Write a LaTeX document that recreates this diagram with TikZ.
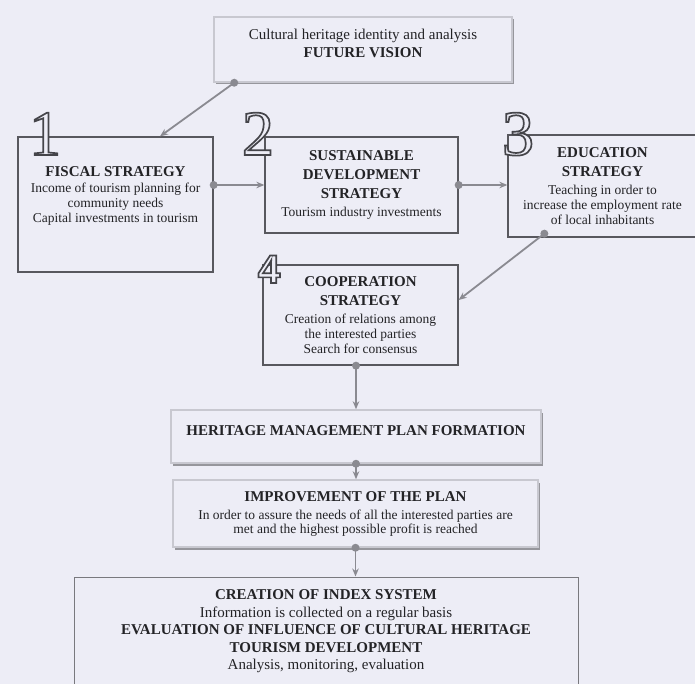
\documentclass[tikz,border=0pt]{standalone}
\usepackage{fontspec}
\setmainfont{Liberation Serif}
\setsansfont{Liberation Sans}
\usetikzlibrary{arrows.meta, positioning, shadows}

\definecolor{bgcol}{RGB}{237,237,246}
\definecolor{txtcol}{RGB}{35,35,38}
\definecolor{boxline}{RGB}{88,88,94}
\definecolor{rimcol}{RGB}{200,200,208}
\definecolor{shadecol}{RGB}{150,150,156}
\definecolor{linkcol}{RGB}{138,138,145}

% hollow numerals: fill in background colour, outline stroked in grey
\newcommand{\hollow}[1]{\special{pdf:literal direct 2 Tr 1.7 w 0.27 0.27 0.29 RG}#1\special{pdf:literal direct 0 Tr}}
\newcommand{\boxhead}[1]{{\fontsize{15}{18}\selectfont\bfseries #1}}

\begin{document}
\begin{tikzpicture}[
    x=1pt, y=-1pt,
    >=Stealth,
    stratbox/.style={rectangle, draw=boxline, line width=1.3pt, fill=bgcol, text=txtcol, align=center, inner sep=2pt, font=\fontsize{13.5}{15}\selectfont, drop shadow={shadow xshift=0.8pt, shadow yshift=-1.3pt, fill=boxline, opacity=0.7}},
    raisedbox/.style={rectangle, draw=rimcol, line width=1.5pt, fill=bgcol, text=txtcol, align=center, inner sep=2pt, drop shadow={shadow xshift=1.5pt, shadow yshift=-2.5pt, fill=shadecol, opacity=1}},
    endbox/.style={rectangle, draw=boxline!80, line width=1pt, fill=bgcol, text=txtcol, align=center, font=\fontsize{15}{17.5}\selectfont},
    numeral/.style={anchor=base, inner sep=0pt, text=bgcol, font=\fontsize{64}{64}\selectfont},
    link/.style={-{Stealth[length=8pt, width=6.5pt]}, draw=linkcol, line width=1.8pt}
]

\useasboundingbox (0,0) rectangle (695,684);
\fill[bgcol] (0,0) rectangle (695,684);

% --- Vision ---
\node[raisedbox, minimum width=298pt, minimum height=65pt, font=\fontsize{15}{18}\selectfont] (vision) at (363,49.5)
    {Cultural heritage identity and analysis\\\textbf{FUTURE VISION}\\[-6pt]\mbox{}};

% --- Strategies ---
\node[stratbox, minimum width=195pt, minimum height=135pt] (fiscal) at (115.5,204.5)
    {\boxhead{FISCAL STRATEGY}\\[1pt]Income of tourism planning for\\community needs\\Capital investments in tourism\\[5pt]\mbox{}};
\node[stratbox, minimum width=193pt, minimum height=96pt] (sustainable) at (361.5,185)
    {\boxhead{SUSTAINABLE}\\[4pt]\boxhead{DEVELOPMENT}\\[4pt]\boxhead{STRATEGY}\\[3pt]Tourism industry investments};
\node[stratbox, minimum width=189pt, minimum height=102pt] (education) at (602.5,186)
    {\boxhead{EDUCATION}\\[4pt]\boxhead{STRATEGY}\\[3pt]Teaching in order to\\increase the employment rate\\of local inhabitants};
\node[stratbox, minimum width=195pt, minimum height=100pt] (cooperation) at (360.5,315)
    {\boxhead{COOPERATION}\\[4pt]\boxhead{STRATEGY}\\[3pt]Creation of relations among\\the interested parties\\Search for consensus};

% --- Numbers ---
\node[numeral] (num1) at (45,155) {\hollow{1}};
\node[numeral] (num2) at (258,155) {\hollow{2}};
\node[numeral] (num3) at (518,155) {\hollow{3}};
\node[numeral, font=\fontsize{40}{40}\selectfont\sffamily\bfseries] (num4) at (269,283) {\hollow{4}};

% --- Plan ---
\node[raisedbox, minimum width=370pt, minimum height=53pt, font=\fontsize{15}{18}\selectfont\bfseries, text height=10pt, text depth=13pt] (heritage) at (356,436.5)
    {HERITAGE MANAGEMENT PLAN FORMATION};
\node[raisedbox, minimum width=365pt, minimum height=67pt, font=\fontsize{13.5}{14}\selectfont] (improvement) at (355.5,513.5)
    {\boxhead{IMPROVEMENT OF THE PLAN}\\[4pt]In order to assure the needs of all the interested parties are\\met and the highest possible profit is reached};
\node[endbox, minimum width=504pt, minimum height=109pt] (evaluation) at (326,631.5)
    {\textbf{CREATION OF INDEX SYSTEM}\\Information is collected on a regular basis\\\textbf{EVALUATION OF INFLUENCE OF CULTURAL HERITAGE}\\\textbf{TOURISM DEVELOPMENT}\\Analysis, monitoring, evaluation};

% --- Links ---
\draw[link] ([xshift=21pt]vision.south west) -- ([xshift=44.5pt]fiscal.north);
\fill[linkcol] ([xshift=21pt]vision.south west) circle (4pt);

\draw[link] (sustainable.west -| fiscal.east) -- (sustainable.west);
\fill[linkcol] (sustainable.west -| fiscal.east) circle (4pt);

\draw[link] (sustainable.east) -- (sustainable.east -| education.west);
\fill[linkcol] (sustainable.east) circle (4pt);

\draw[link] ([xshift=37pt, yshift=4pt]education.south west) -- ([yshift=15pt]cooperation.east);
\fill[linkcol] ([xshift=37pt, yshift=4pt]education.south west) circle (4pt);

\draw[link] (cooperation.south -| heritage.north) -- (heritage.north);
\fill[linkcol] (cooperation.south -| heritage.north) circle (4pt);

\draw[link] (heritage.south) -- (heritage.south |- improvement.north);
\fill[linkcol] (heritage.south) circle (4pt);

\draw[link] (improvement.south) -- (improvement.south |- evaluation.north);
\fill[linkcol] (improvement.south) circle (4pt);

\end{tikzpicture}
\end{document}
